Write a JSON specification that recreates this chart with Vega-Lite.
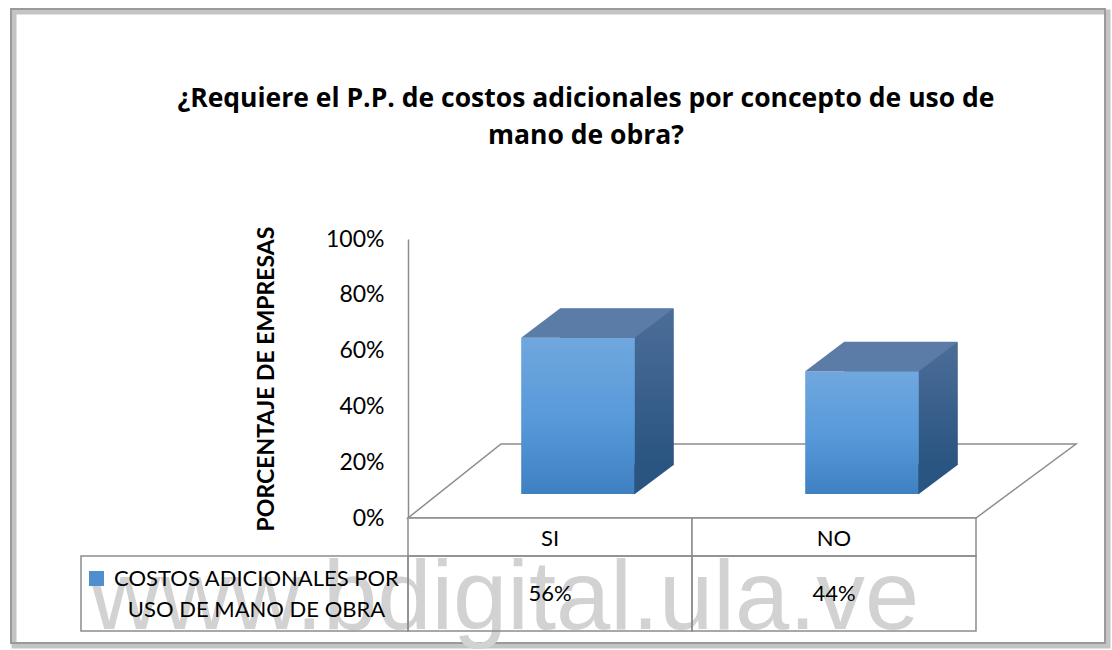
{
  "$schema": "https://vega.github.io/schema/vega-lite/v6.json",
  "padding": {"left": 3, "top": 2, "right": 0, "bottom": 0},
  "background": "white",
  "config": {"font": "Lato", "view": {"stroke": null}, "text": {"color": "#000"}},
  "datasets": {
    "main": [
      {"respuesta": "SI", "porcentaje": 0.56},
      {"respuesta": "NO", "porcentaje": 0.44}
    ],
    "serie": [
      {"serie": "COSTOS ADICIONALES POR\nUSO DE MANO DE OBRA"}
    ]
  },
  "columns": 2,
  "spacing": 0,
  "bounds": "flush",
  "align": "each",
  "concat": [
    {
      "width": 327, "height": 279,
      "data": {"values": [{"v": 1}]},
      "layer": [
        {"mark": {"type": "point", "shape": "M -2.305 -3.665 L 8.635 -3.665 L 8.635 2.675 L -2.305 2.675 Z", "size": 40000,
                  "filled": false, "stroke": "#c4c4c4", "strokeWidth": 5, "opacity": 1}, "encoding": {}},
        {"mark": {"type": "point", "shape": "M -2.335 -3.695 L 8.605 -3.695 L 8.605 2.645 L -2.335 2.645 Z", "size": 40000,
                  "filled": false, "stroke": "#9a9a9a", "strokeWidth": 2, "opacity": 1}, "encoding": {}}
      ]
    },
    {
      "width": 568, "height": 279,
      "title": {
        "text": ["¿Requiere el P.P. de costos adicionales por concepto de uso de", "mano de obra?"],
        "fontSize": 26.5, "font": "Open Sans", "fontWeight": "bold", "color": "#000",
        "lineHeight": 37, "anchor": "middle", "frame": "group", "dx": -106, "offset": 77
      },
      "data": {"name": "main"},
      "encoding": {
        "x": {"field": "respuesta", "type": "nominal", "sort": ["SI", "NO"],
              "scale": {"domain": ["SI", "NO"], "paddingInner": 0, "paddingOuter": 0}, "axis": null}
      },
      "layer": [
        {
          "transform": [{"filter": "datum.respuesta === 'SI'"}],
          "mark": {"type": "point", "shape": "M -1.42 0 L 4.26 0 L 5.26 -0.74 L -0.49 -0.74 Z", "size": 40000,
                   "filled": false, "stroke": "#8c8c8c", "strokeWidth": 1.5, "opacity": 1},
          "encoding": {
            "y": {"datum": 0, "type": "quantitative", "scale": {"domain": [0, 1], "nice": false},
                  "axis": {"values": [0, 0.2, 0.4, 0.6, 0.8, 1], "format": ".0%", "domainColor": "#8c8c8c", "domainWidth": 1.5,
                           "ticks": false, "grid": false, "labelFontSize": 23, "labelColor": "#000", "labelPadding": 24,
                           "title": "PORCENTAJE DE EMPRESAS", "titleFontSize": 23, "titleFontWeight": "bold", "titleColor": "#000", "titlePadding": 47}}
          }
        },
        {
          "mark": {"type": "bar", "width": {"band": 0.4}, "xOffset": 67, "yOffset": -53,
                   "fill": {"gradient": "linear", "x1": 0, "y1": 0, "x2": 0, "y2": 1,
                            "stops": [{"offset": 0, "color": "#4b6e98"}, {"offset": 1, "color": "#2a5481"}]}},
          "encoding": {
            "y": {"field": "porcentaje", "type": "quantitative", "scale": {"domain": [0, 1], "nice": false},
                  "axis": {"values": [0, 0.2, 0.4, 0.6, 0.8, 1], "format": ".0%", "domainColor": "#8c8c8c", "domainWidth": 1.5,
                           "ticks": false, "grid": false, "labelFontSize": 23, "labelColor": "#000", "labelPadding": 24,
                           "title": "PORCENTAJE DE EMPRESAS", "titleFontSize": 23, "titleFontWeight": "bold", "titleColor": "#000", "titlePadding": 47}}
          }
        },
        {
          "mark": {"type": "bar", "width": {"band": 0.4}, "xOffset": 28, "yOffset": -24,
                   "fill": {"gradient": "linear", "x1": 0, "y1": 0, "x2": 0, "y2": 1,
                            "stops": [{"offset": 0, "color": "#70a7de"}, {"offset": 0.5, "color": "#589ada"}, {"offset": 1, "color": "#3f80c2"}]}},
          "encoding": {
            "y": {"field": "porcentaje", "type": "quantitative", "scale": {"domain": [0, 1], "nice": false}}
          }
        },
        {
          "mark": {"type": "point", "shape": "M -0.568 0 L 0.568 0 L 0.958 -0.294 L -0.178 -0.294 Z", "size": 40000,
                   "filled": true, "fill": "#5a7ca6", "opacity": 1, "strokeWidth": 0, "xOffset": 28, "yOffset": -24},
          "encoding": {
            "y": {"field": "porcentaje", "type": "quantitative", "scale": {"domain": [0, 1], "nice": false}}
          }
        },
        {
          "mark": {"type": "point", "shape": "M 0.562 0.004 L 0.962 -0.296 L 0.562 -0.296 Z", "size": 40000,
                   "filled": true, "fill": "#2a5481", "opacity": 1, "strokeWidth": 0, "xOffset": 28, "yOffset": -24},
          "encoding": {
            "y": {"datum": 0, "type": "quantitative", "scale": {"domain": [0, 1], "nice": false}}
          }
        }
      ]
    },
    {
      "width": 327, "height": 38,
      "data": {"values": [{"v": 1}]},
      "mark": {"type": "text", "text": " "},
      "encoding": {}
    },
    {
      "width": 568, "height": 38,
      "data": {"name": "main"},
      "encoding": {
        "x": {"field": "respuesta", "type": "nominal", "sort": ["SI", "NO"],
              "scale": {"domain": ["SI", "NO"], "paddingInner": 0, "paddingOuter": 0}, "axis": null}
      },
      "layer": [
        {"mark": {"type": "rect", "fill": "white", "stroke": "#8c8c8c", "strokeWidth": 1.5}},
        {"mark": {"type": "text", "fontSize": 22, "color": "#000", "dy": 2}, "encoding": {"text": {"field": "respuesta"}}}
      ]
    },
    {
      "width": 327, "height": 75,
      "data": {"name": "serie"},
      "encoding": {
        "x": {"field": "serie", "type": "nominal", "scale": {"paddingInner": 0, "paddingOuter": 0}, "axis": null}
      },
      "layer": [
        {"mark": {"type": "text", "text": "www.bdigital.ula.ve", "font": "Liberation Sans", "fontSize": 97.5,
                  "align": "left", "baseline": "alphabetic", "xOffset": -154.5, "yOffset": 35.5,
                  "color": "#d2d2d2", "opacity": 1}},
        {"mark": {"type": "rect", "fill": "white", "fillOpacity": 0, "stroke": "#8c8c8c", "strokeWidth": 1.5}},
        {"mark": {"type": "point", "shape": "square", "size": 225, "filled": true, "opacity": 1, "fill": "#4f8fd0",
                  "xOffset": -148, "yOffset": -15}},
        {"mark": {"type": "text", "lineBreak": "\n", "fontSize": 22, "lineHeight": 31, "dx": 12, "dy": -15, "color": "#000"},
         "encoding": {"text": {"field": "serie"}}}
      ]
    },
    {
      "width": 568, "height": 75,
      "data": {"name": "main"},
      "encoding": {
        "x": {"field": "respuesta", "type": "nominal", "sort": ["SI", "NO"],
              "scale": {"domain": ["SI", "NO"], "paddingInner": 0, "paddingOuter": 0}, "axis": null}
      },
      "layer": [
        {"mark": {"type": "rect", "fill": "white", "fillOpacity": 0, "stroke": "#8c8c8c", "strokeWidth": 1.5}},
        {"mark": {"type": "text", "fontSize": 22, "color": "#000"},
         "encoding": {"text": {"field": "porcentaje", "type": "quantitative", "format": ".0%"}}}
      ]
    }
  ]
}
